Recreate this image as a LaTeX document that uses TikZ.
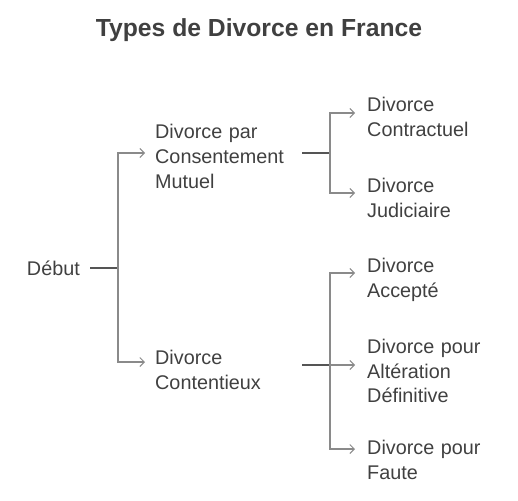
\documentclass[tikz,border=0pt]{standalone}
\usepackage{fontspec}
\setmainfont{Liberation Sans}
\usetikzlibrary{arrows.meta}
\definecolor{txt}{HTML}{404040}
\definecolor{stemc}{HTML}{555555}
\definecolor{branchc}{HTML}{8A8A8A}
\tikzset{
  lbl/.style={font=\fontsize{19.8}{24.75}\selectfont, text=txt, inner xsep=10pt, inner ysep=0pt, align=left, anchor=west},
  leaf/.style={lbl, inner xsep=12pt, text width=140pt},
  dn/.style={execute at begin node={\rule{0pt}{#1pt}}},
  stem/.style={draw=stemc, line width=1.3pt},
  branch/.style={draw=branchc, line width=1.2pt, -{Straight Barb[length=4.5pt,width=9pt,line width=1pt]}}
}
\begin{document}
\begin{tikzpicture}[x=1pt,y=-1pt]
\useasboundingbox (0,0) rectangle (518,500);
\node[font=\fontsize{24.7}{28}\selectfont\bfseries, text=txt, anchor=base] (title) at (259,37) {Types de Divorce en France};
\node[lbl, anchor=east] (debut) at (90,268) {Début};
\coordinate (j0) at (118,268);
\node[lbl, text width=137pt, dn=21.5] (cons) at (145,153) {Divorce par\\Consentement\\Mutuel};
\node[lbl, text width=137pt, dn=29.5] (cont) at (145,362) {Divorce\\Contentieux};
\coordinate (j1) at (330,153);
\coordinate (j2) at (330,365);
\node[leaf, dn=22.5] (contr) at (355,113) {Divorce\\Contractuel};
\node[leaf, dn=24.5] (jud) at (355,193) {Divorce\\Judiciaire};
\node[leaf, dn=28.5] (acc) at (355,273) {Divorce\\Accepté};
\node[leaf, dn=26.5] (alt) at (355,365) {Divorce pour\\Altération\\Définitive};
\node[leaf, dn=36.5] (faute) at (355,449) {Divorce pour\\Faute};
\draw[stem] (debut.east) -- (j0);
\draw[branch] (j0) |- (cons.west);
\draw[branch] (j0) |- (cont.west);
\draw[stem] (cons.east) -- (j1);
\draw[branch] (j1) |- (contr.west);
\draw[branch] (j1) |- (jud.west);
\draw[stem] (cont.east |- j2) -- (j2);
\draw[branch] (j2) |- (acc.west);
\draw[branch] (j2) -- (alt.west);
\draw[branch] (j2) |- (faute.west);
\end{tikzpicture}
\end{document}
